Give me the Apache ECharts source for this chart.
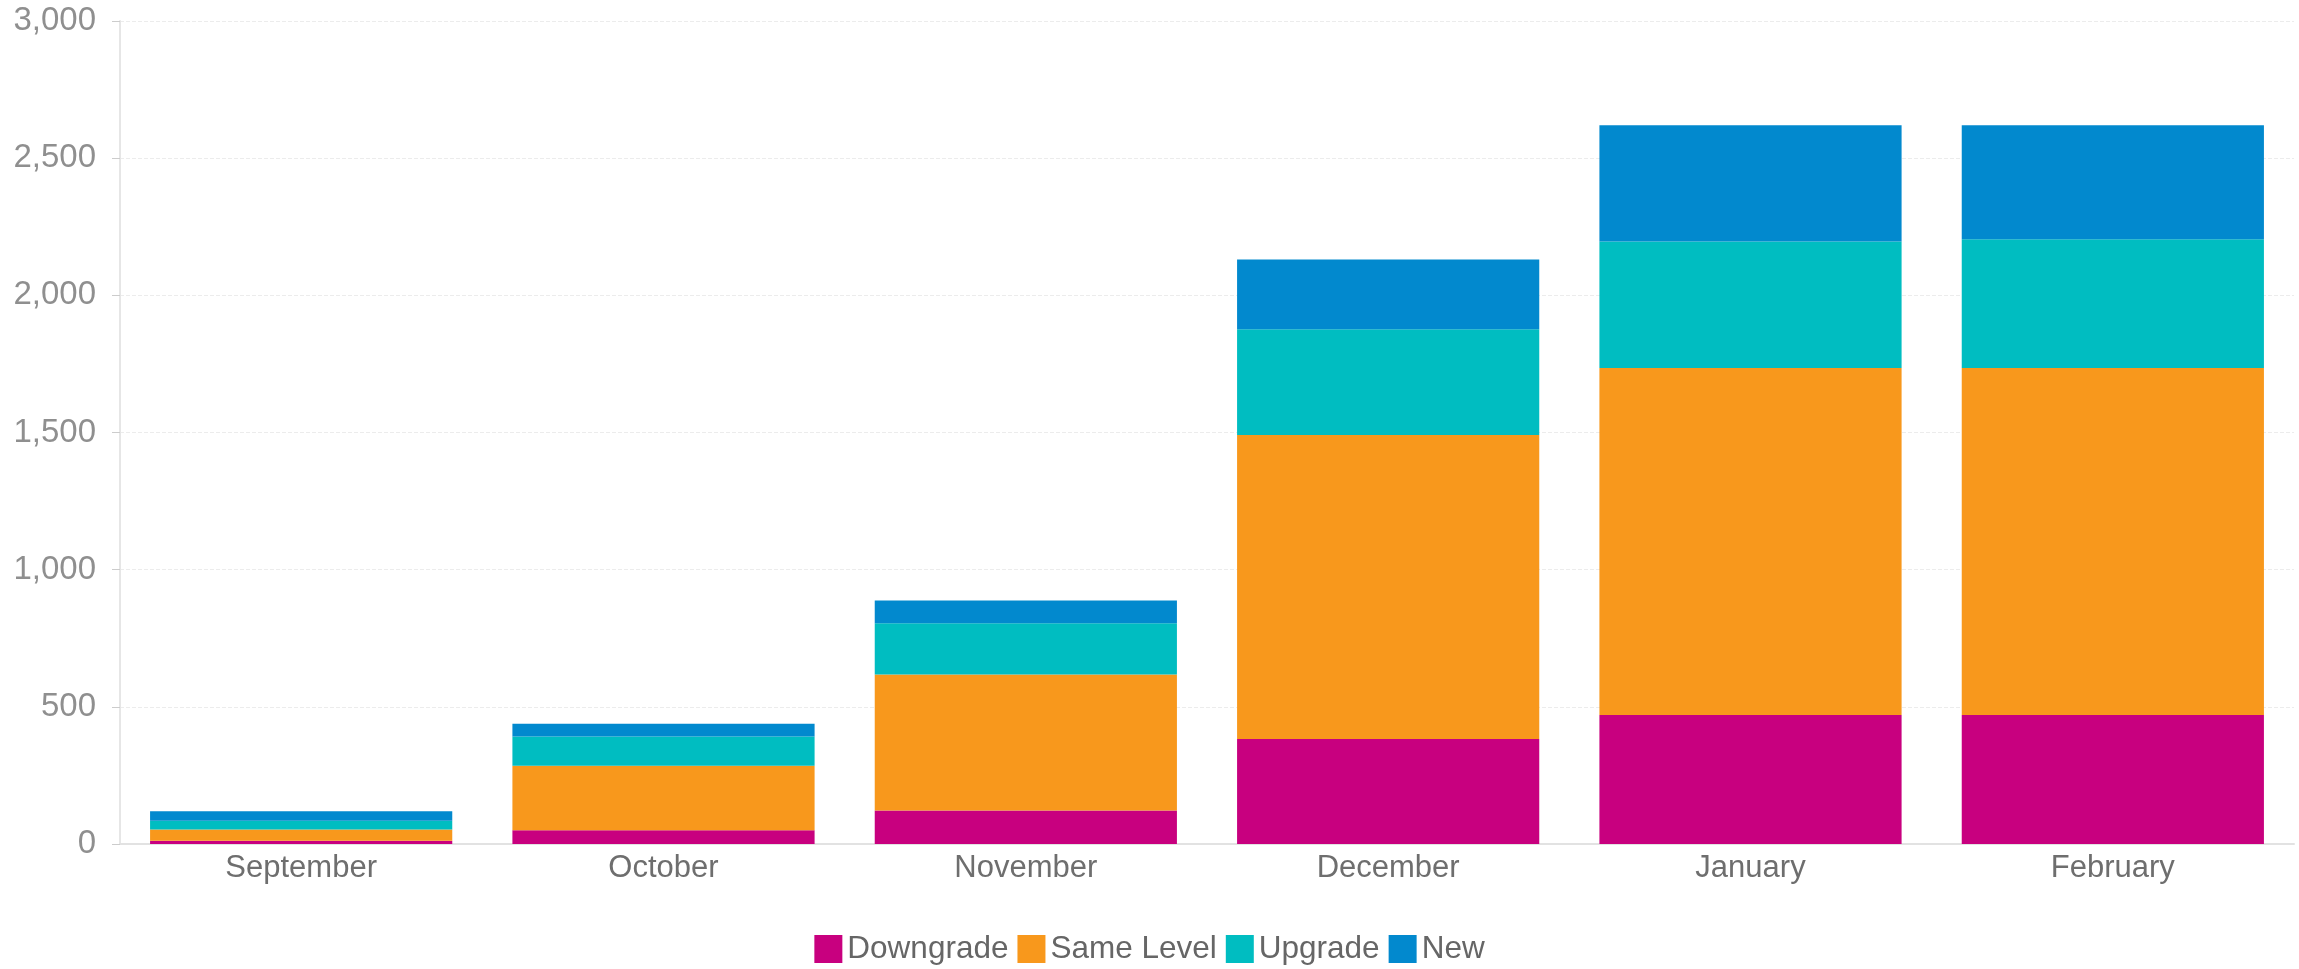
<!DOCTYPE html>
<html>
<head>
<meta charset="utf-8">
<script src="https://cdn.jsdelivr.net/npm/echarts@6/dist/echarts.min.js"></script>
<style>
  html, body { margin: 0; padding: 0; background: #ffffff; }
  #chart { width: 2299px; height: 969px; }
</style>
</head>
<body>
<div id="chart"></div>
<script>
const categories = ['September', 'October', 'November', 'December', 'January', 'February'];
const downgrade  = [12, 50, 122, 383, 470, 470];
const sameLevel  = [41, 235, 496, 1108, 1265, 1265];
const upgrade    = [32, 107, 187, 385, 461, 469];
const newUsers   = [34, 46, 83, 255, 424, 416];
const yTicks     = [0, 500, 1000, 1500, 2000, 2500, 3000];

const seriesNames  = ['Downgrade', 'Same Level', 'Upgrade', 'New'];
const seriesColors = ['#C8007F', '#F8981C', '#00BDC1', '#0289CE'];
const seriesData   = [downgrade, sameLevel, upgrade, newUsers];

const chart = echarts.init(document.getElementById('chart'), null, { renderer: 'canvas' });
const fontFamily = 'Liberation Sans, Arial, sans-serif';

chart.setOption({
  animation: false,
  backgroundColor: '#ffffff',
  color: seriesColors,
  grid: { left: 120, right: 5, top: 21, bottom: 125, containLabel: false },
  legend: {
    top: 928,
    left: 'center',
    icon: 'rect',
    itemWidth: 28,
    itemHeight: 28,
    itemGap: 9,
    data: seriesNames,
    textStyle: { fontFamily: fontFamily, fontSize: 31.5, color: '#666666' }
  },
  xAxis: {
    type: 'category',
    data: categories,
    axisLine: { show: true, lineStyle: { color: '#e2e2e2', width: 2 } },
    axisTick: { show: false },
    axisLabel: { fontFamily: fontFamily, fontSize: 31, color: '#6e6e6e', margin: 9 }
  },
  yAxis: {
    type: 'value',
    min: yTicks[0],
    max: yTicks[yTicks.length - 1],
    interval: yTicks[1] - yTicks[0],
    axisLine: { show: true, lineStyle: { color: '#e6e6e6', width: 2 } },
    axisTick: { show: true, length: 8, lineStyle: { color: '#cccccc' } },
    splitLine: { show: true, lineStyle: { color: '#ececec', type: 'dashed', width: 1 } },
    axisLabel: {
      fontFamily: fontFamily, fontSize: 33, color: '#8f8f8f', margin: 24,
      formatter: v => v.toLocaleString('en-US')
    }
  },
  series: seriesNames.map((name, i) => ({
    name: name,
    type: 'bar',
    stack: 'total',
    barWidth: '83.4%',
    data: seriesData[i],
    itemStyle: { color: seriesColors[i] }
  }))
});
</script>
</body>
</html>
